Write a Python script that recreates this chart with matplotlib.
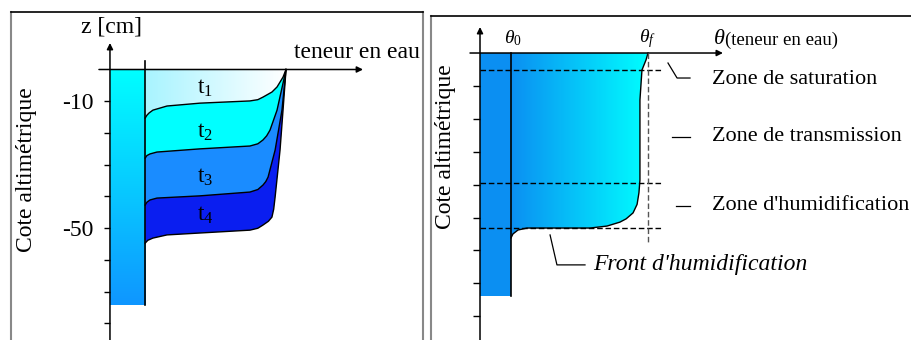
import matplotlib
matplotlib.use("Agg")
import matplotlib.pyplot as plt
import numpy as np
from matplotlib.patches import Polygon
from matplotlib.colors import LinearSegmentedColormap

plt.rcParams['font.family'] = ['Liberation Serif', 'DejaVu Serif']
plt.rcParams['mathtext.fontset'] = 'custom'
plt.rcParams['mathtext.rm'] = 'Liberation Serif'
plt.rcParams['mathtext.it'] = 'Liberation Serif:italic'

FS = 17

#%% data - left panel (theta relative to saturation, z in cm)
z_ticks = [-10, -20, -30, -40, -50, -60, -70, -80]
z_tick_labels = ['-10', '', '', '', '-50', '', '', '']
theta_init = 0.2
z_column_bottom = -74.2

t1_theta = [0.2, 0.21, 0.222, 0.244, 0.324, 0.511, 0.795, 0.84, 0.869, 0.92, 0.949, 0.983, 1.0]
t1_z = [-15.3, -14.4, -13.7, -12.8, -11.5, -10.6, -9.9, -9.5, -8.7, -7.1, -5.5, -2.4, 0]
t2_theta = [0.2, 0.21, 0.227, 0.267, 0.511, 0.795, 0.84, 0.869, 0.89, 0.909, 0.949, 0.983, 1.0]
t2_z = [-27.9, -27.1, -26.6, -26.0, -25.0, -24.1, -23.4, -22.2, -20.9, -19.1, -12.8, -4.3, 0]
t3_theta = [0.2, 0.21, 0.227, 0.267, 0.511, 0.795, 0.84, 0.869, 0.885, 0.898, 0.938, 0.977, 1.0]
t3_z = [-42.7, -41.8, -41.1, -40.5, -39.8, -38.6, -37.8, -36.4, -35.3, -33.9, -25.4, -12.8, 0]
t4_theta = [0.2, 0.215, 0.244, 0.324, 0.511, 0.795, 0.84, 0.869, 0.90, 0.92, 0.93, 0.938, 0.966, 0.983, 1.0]
t4_z = [-54.7, -53.8, -53.1, -52.1, -51.5, -50.6, -50.0, -49.0, -47.8, -46.5, -44.0, -40.2, -25.4, -12.8, 0]
t_labels = ['1', '2', '3', '4']
t_label_z = [-5.8, -19.7, -33.9, -45.8]

#%% data - right panel (theta/theta_f, depth in tick units)
d_ticks = [-1, -2, -3, -4, -5, -6, -7, -8]
theta_0 = 0.1845
d_column_bottom = -7.386
prof_theta = [1.0, 0.988, 0.964, 0.952, 0.952, 0.952, 0.946, 0.935, 0.911, 0.87, 0.833, 0.756, 0.655, 0.280, 0.226, 0.196, 0.1845]
prof_d = [0, -0.213, -0.517, -1.43, -2.95, -3.86, -4.25, -4.6, -4.86, -5.04, -5.14, -5.26, -5.32, -5.32, -5.38, -5.50, -5.62]
zone_limits = [-0.517, -3.951, -5.32]
zone_names = ['Zone de saturation', 'Zone de transmission', "Zone d'humidification"]
zone_label_d = [-0.82, -2.55, -4.65]

fig = plt.figure(figsize=(9.12, 3.40), dpi=100)

# panel frames in pixel coords
bg = fig.add_axes([0, 0, 1, 1])
bg.set_xlim(0, 912)
bg.set_ylim(340, 0)
bg.axis('off')
bg.plot([11, 11], [12, 345], color='#888888', lw=1.5)
bg.plot([423, 423], [12, 345], color='#888888', lw=1.5)
bg.plot([11, 423], [12, 12], color='black', lw=1.2)
bg.plot([431, 431], [16, 345], color='#888888', lw=1.5)
bg.plot([431, 915], [16, 16], color='black', lw=1.2)

arrow_kw = dict(arrowstyle='-|>', lw=1.1, color='black', mutation_scale=9, shrinkA=0, shrinkB=0)

#%% left panel
axL = fig.add_axes([20 / 912, 0, 400 / 912, 328 / 340])
axL.set_xlim(-0.511, 1.761)
axL.set_ylim(-85.2, 18.11)
axL.patch.set_alpha(0)
for s in ['top', 'right', 'bottom']:
    axL.spines[s].set_visible(False)
axL.spines['left'].set_position(('data', 0))
axL.spines['left'].set_visible(False)
axL.set_xticks([])
axL.set_yticks(z_ticks)
axL.set_yticklabels(z_tick_labels)
axL.tick_params(axis='y', direction='out', length=4.5, width=1.0, labelsize=FS, pad=7)

# axes lines
axL.annotate('', xy=(0, 8.35), xytext=(0, -90), arrowprops=arrow_kw, annotation_clip=False)
axL.annotate('', xy=(1.4375, 0), xytext=(-0.0625, 0), arrowprops=arrow_kw)

# soil column (initial state) with vertical gradient
cmap_col = LinearSegmentedColormap.from_list('col', ['#00ffff', '#0f96ff'])
grad = np.linspace(0, 1, 256).reshape(-1, 1)
axL.imshow(grad, extent=(0, theta_init, z_column_bottom, 0), cmap=cmap_col, aspect='auto', zorder=1)

# wetting fronts, drawn deepest first
fills = [(t4_theta, t4_z, '#0a1ef0'), (t3_theta, t3_z, '#1a8cff'), (t2_theta, t2_z, '#00ffff')]
for th, z, c in fills:
    pts = list(zip(th, z)) + [(theta_init, 0)]
    axL.add_patch(Polygon(pts, closed=True, facecolor=c, edgecolor='none', zorder=2))
pts1 = list(zip(t1_theta, t1_z)) + [(theta_init, 0)]
poly1 = Polygon(pts1, closed=True, facecolor='none', edgecolor='none', zorder=2)
axL.add_patch(poly1)
cmap_t1 = LinearSegmentedColormap.from_list('t1', ['#a8f4ff', '#ffffff'])
im = axL.imshow(np.linspace(0, 1, 256).reshape(1, -1), extent=(theta_init, 1.0, -16, 0),
                cmap=cmap_t1, aspect='auto', zorder=2)
im.set_clip_path(poly1)
for th, z in [(t1_theta, t1_z), (t2_theta, t2_z), (t3_theta, t3_z), (t4_theta, t4_z)]:
    axL.plot(th, z, color='black', lw=1.0, zorder=3, solid_joinstyle='round')
axL.plot([theta_init, theta_init], [2.68, z_column_bottom], color='black', lw=1.2, zorder=3)

for lab, zz in zip(t_labels, t_label_z):
    axL.text(0.54, zz, r'$\mathrm{t}_{\mathrm{' + lab + '}}$', fontsize=FS, ha='center', va='center', zorder=4)

axL.text(0.006, 13.4, 'z [cm]', fontsize=FS, ha='center', va='center')
axL.text(1.045, 5.2, 'teneur en eau', fontsize=FS, ha='left', va='center')
axL.text(-0.472, -31.65, 'Cote altimétrique', fontsize=FS, rotation=90, ha='center', va='center')

#%% right panel
axR = fig.add_axes([431 / 912, 0, 481 / 912, 324 / 340])
axR.set_xlim(-0.2917, 2.5714)
axR.set_ylim(-8.723, 1.125)
axR.patch.set_alpha(0)
for s in ['top', 'right', 'bottom']:
    axR.spines[s].set_visible(False)
axR.spines['left'].set_position(('data', 0))
axR.spines['left'].set_visible(False)
axR.set_xticks([])
axR.set_yticks(d_ticks)
axR.set_yticklabels([])
axR.tick_params(axis='y', direction='out', length=5, width=1.0)

axR.annotate('', xy=(0, 0.79), xytext=(0, -9), arrowprops=arrow_kw, annotation_clip=False)
axR.annotate('', xy=(1.446, 0), xytext=(-0.0595, 0), arrowprops=arrow_kw)

axR.add_patch(Polygon([(0, 0), (theta_0, 0), (theta_0, d_column_bottom), (0, d_column_bottom)],
                      closed=True, facecolor='#0b8ff2', edgecolor='none', zorder=1))
polyR = Polygon(list(zip(prof_theta, prof_d)) + [(theta_0, 0)], closed=True,
                facecolor='none', edgecolor='none', zorder=1)
axR.add_patch(polyR)
cmap_R = LinearSegmentedColormap.from_list('prof', ['#0b8ff2', '#00ffff'])
imR = axR.imshow(np.linspace(0, 1, 256).reshape(1, -1), extent=(theta_0, 1.0, -5.7, 0),
                 cmap=cmap_R, aspect='auto', zorder=1)
imR.set_clip_path(polyR)
axR.plot(prof_theta, prof_d, color='black', lw=1.0, zorder=3, solid_joinstyle='round')
axR.plot([theta_0, theta_0], [0, d_column_bottom], color='black', lw=1.2, zorder=3)

for d in zone_limits:
    axR.plot([0, 1.089], [d, d], color='black', lw=1.0, ls=(0, (4, 2)), zorder=4)
axR.plot([1.0, 1.0], [0, -5.775], color='#555555', lw=1.0, ls=(0, (4, 2)), zorder=4)

# zone leaders and names
axR.plot([1.119, 1.173, 1.25], [-0.304, -0.76, -0.76], color='black', lw=0.9)
axR.plot([1.143, 1.25], [-2.553, -2.553], color='black', lw=0.9)
axR.plot([1.167, 1.25], [-4.65, -4.65], color='black', lw=0.9)
for name, d in zip(zone_names, zone_label_d):
    axR.text(1.381, d, name, fontsize=16, ha='left', va='center', clip_on=False)

axR.plot([0.417, 0.458, 0.625], [-5.53, -6.44, -6.44], color='black', lw=0.9)
axR.text(0.673, -6.44, "Front d'humidification", fontsize=FS, style='italic', ha='left', va='center')

axR.text(0.196, 0.45, r'$\theta_{0}$', fontsize=14, ha='center', va='center')
axR.text(0.994, 0.45, r'$\theta_{f}$', fontsize=14, ha='center', va='center')
axR.text(1.387, 0.40, r'$\theta$', fontsize=16, ha='left', va='center')
axR.text(1.458, 0.40, '(teneur en eau)', fontsize=13.5, ha='left', va='center')
axR.text(-0.208, -2.857, 'Cote altimétrique', fontsize=FS, rotation=90, ha='center', va='center')

fig.savefig('out.png', dpi=100)
